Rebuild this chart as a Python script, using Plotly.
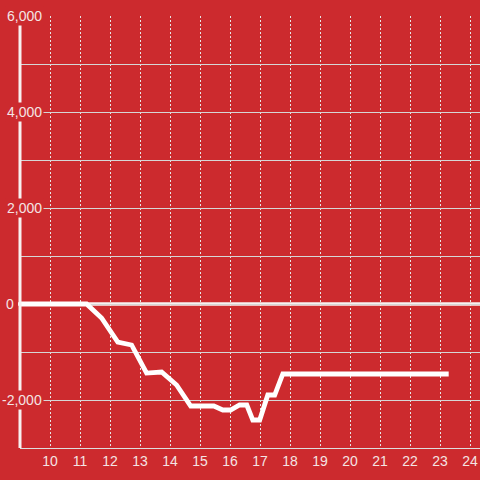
import plotly.graph_objects as go

# data
hours = [9, 11.22, 11.72, 12.26, 12.72, 13.22, 13.72, 14.22, 14.69, 15.46, 15.76, 16.02,
         16.32, 16.56, 16.76, 16.99, 17.26, 17.49, 17.76, 23.29]
values = [0, 0, -292, -792, -854, -1438, -1417, -1688, -2125, -2125, -2208, -2208,
          -2104, -2104, -2417, -2417, -1896, -1896, -1458, -1458]
x_ticks = list(range(10, 25))
y_tick_vals = [6000, 4000, 2000, 0, -2000]
y_tick_text = ["6,000", "4,000", "2,000", "0", "-2,000"]
y_label_shift = [23, 23, 23, -5, 23]

BG = "#cc2a2e"
TXT = "#f4e4e4"

fig = go.Figure()
fig.add_trace(go.Scatter(x=hours, y=values, mode="lines",
                         line=dict(color="#ffffff", width=4.8), hoverinfo="skip"))

fig.update_layout(
    width=480, height=480,
    margin=dict(l=20, r=0, t=16, b=32),
    paper_bgcolor=BG, plot_bgcolor=BG,
    showlegend=False,
    font=dict(family="Liberation Sans, Arial, sans-serif", size=14, color=TXT),
)
fig.update_xaxes(range=[9, 9 + 460 / 30], tickvals=x_ticks, ticktext=[str(v) for v in x_ticks],
                 showgrid=True, gridcolor="#e6e6e6", gridwidth=1, griddash="2px,2px",
                 zeroline=False, showline=True, linecolor="#dddddd", linewidth=1,
                 ticks="", tickfont=dict(size=14, color=TXT))
fig.update_yaxes(range=[-3000, 6000], dtick=1000, tick0=0, showgrid=True,
                 gridcolor="#d6d6d6", gridwidth=1, zeroline=False,
                 showticklabels=False, ticks="", showline=False)

# zero line and y-axis line
fig.add_shape(type="line", xref="paper", yref="y", x0=-2 / 460, x1=1, y0=0, y1=0,
              line=dict(color="#f8f0f0", width=3.5), layer="below")
fig.add_shape(type="line", xref="paper", yref="y", x0=0, x1=0, y0=-3000, y1=5833,
              line=dict(color="#f8f0f0", width=3), layer="above")

for v, t, s in zip(y_tick_vals, y_tick_text, y_label_shift):
    fig.add_annotation(x=0, xref="paper", y=v, yref="y", text=t, showarrow=False,
                       xanchor="right", yanchor="middle", xshift=s + 1,
                       bgcolor=BG, borderpad=1,
                       font=dict(size=14, color=TXT))

fig.write_html("out.html", config={"displayModeBar": False},
               post_script="document.body.style.margin='0';document.body.style.padding='0';")
